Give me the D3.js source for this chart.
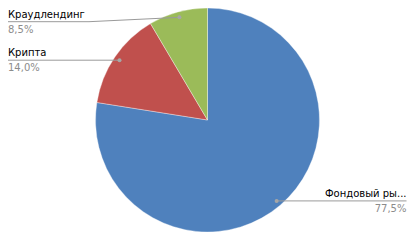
<!DOCTYPE html>
<html>
<head>
<meta charset="utf-8">
<script src="https://cdn.jsdelivr.net/npm/d3@7"></script>
<style>
  body { margin: 0; background: #fff; }
  svg { display: block; font-family: "DejaVu Sans", sans-serif; }
</style>
</head>
<body>
<svg></svg>
<script>
const categories = ["Фондовый рынок", "Крипта", "Краудлендинг"];
const shortNames = ["Фондовый ры...", "Крипта", "Краудлендинг"];
const values = [77.5, 14.0, 8.5];
const colors = ["#4f81bd", "#c0504d", "#9bbb59"];

const width = 413;
const height = 240;
const cx = 207.5;
const cy = 120;
const radius = 112;

const svg = d3.select("svg").attr("width", width).attr("height", height);

const slices = d3.pie().sort(null).value((d) => d)(values);
const arc = d3.arc().innerRadius(0).outerRadius(radius);
const dotArc = d3.arc().innerRadius(radius * 0.95).outerRadius(radius * 0.95);

const g = svg.append("g").attr("transform", `translate(${cx},${cy})`);

g.selectAll("path")
  .data(slices)
  .enter()
  .append("path")
  .attr("d", arc)
  .attr("fill", (d, i) => colors[i])
  .attr("stroke", "#ffffff")
  .attr("stroke-opacity", 0.6)
  .attr("stroke-width", 0.6);

const fmt = (v) => d3.format(".1f")(v).replace(".", ",") + "%";

// label layout: left side labels at the left edge, right side at the right edge
const labels = slices.map((d, i) => {
  const [dx, dy] = dotArc.centroid(d);
  const px = cx + dx;
  const py = cy + dy;
  const left = px < cx;
  const lineY = Math.max(py, 21.7);
  return { i, px, py, left, lineY };
});

const lg = svg.append("g");

labels.forEach((l) => {
  const pts = l.left
    ? [[8, l.lineY], [89, l.lineY], [l.px, l.py]]
    : [[l.px, l.py], [406.5, l.lineY]];
  lg.append("path")
    .attr("d", d3.line()(pts))
    .attr("fill", "none")
    .attr("stroke", "#9a9a9a")
    .attr("stroke-width", 1);
  lg.append("circle")
    .attr("cx", l.px)
    .attr("cy", l.py)
    .attr("r", 2)
    .attr("fill", "#a6a6a6");
  const tx = l.left ? 8 : 406.5;
  const anchor = l.left ? "start" : "end";
  lg.append("text")
    .attr("x", tx)
    .attr("y", l.lineY - 4)
    .attr("text-anchor", anchor)
    .attr("font-size", 10)
    .attr("fill", "#000")
    .text(shortNames[l.i]);
  lg.append("text")
    .attr("x", tx)
    .attr("y", l.lineY + 10.8)
    .attr("text-anchor", anchor)
    .attr("font-size", 10)
    .attr("fill", "#8c8c8c")
    .text(fmt(values[l.i]));
});
</script>
</body>
</html>
